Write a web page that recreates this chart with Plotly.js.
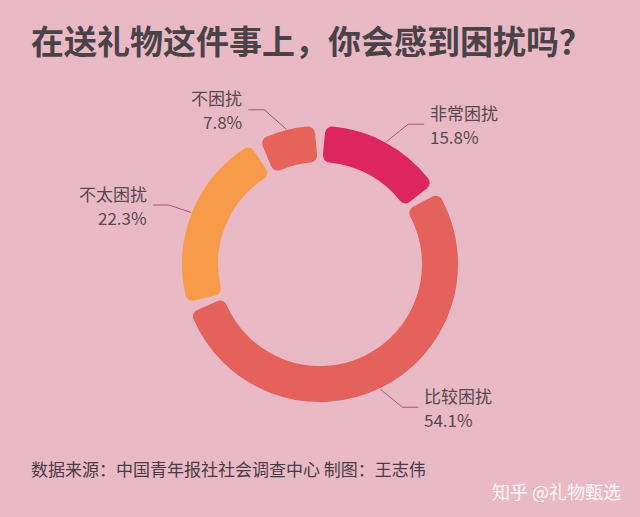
<!DOCTYPE html>
<html>
<head>
<meta charset="utf-8">
<script src="https://cdn.plot.ly/plotly-3.0.1.min.js"></script>
<style>
  html, body { margin: 0; padding: 0; background: #e9bac6; }
  #chart { width: 640px; height: 517px; }
</style>
</head>
<body>
<div id="chart"></div>
<script>
// ---- data ----
const labels = ['非常困扰', '比较困扰', '不太困扰', '不困扰'];
const values = [15.8, 54.1, 22.3, 7.8];
const sliceColors = ['#dd2660', '#e4615c', '#f79b4b', '#e7645b'];
const titleText = '在送礼物这件事上，你会感到困扰吗？';
const sourceText = '数据来源：中国青年报社社会调查中心 制图：王志伟';
const watermarkText = '知乎 @礼物甄选';

// ---- geometry / style ----
const W = 640, H = 517;
const CX = 320, CY = 264;        // ring centre (px)
const R_OUT = 138, R_IN = 102;   // visible ring radii (px)
const CORNER = 7;                // rounded corner radius (half stroke)
const GAP_FRAC = 0.029;          // share of the circle left empty at each boundary
const FONT = '"Noto Sans CJK SC", "Noto Sans", sans-serif';
const TEXT_COLOR = '#5a4850';
const LINE_COLOR = '#a8566a';
const BG = '#e9bac6';

const R = R_OUT - CORNER;
const hole = (R_IN + CORNER) / R;

const total = values.reduce((a, b) => a + b, 0);
const gap = GAP_FRAC * total;

// each slice keeps its true position; a transparent spacer is centred on each boundary
const pieValues = [], pieColors = [], lineColors = [], lineWidths = [], pieLabels = [];
values.forEach((v, i) => {
  pieValues.push(v - gap); pieColors.push(sliceColors[i]); lineColors.push(sliceColors[i]);
  lineWidths.push(CORNER * 2); pieLabels.push(labels[i]);
  pieValues.push(gap); pieColors.push('rgba(0,0,0,0)'); lineColors.push('rgba(0,0,0,0)');
  lineWidths.push(0); pieLabels.push(' gap' + i);
});

const toPX = x => x / W, toPY = y => 1 - y / H;

// leader lines + labels computed from slice angles
const shapes = [], annotations = [];
let cum = 0;
values.forEach((v, i) => {
  const mid = (cum + v / 2) / total * 2 * Math.PI;
  cum += v;
  const s = Math.sin(mid), c = Math.cos(mid);
  const x0 = CX + (R_OUT + 1) * s, y0 = CY - (R_OUT + 1) * c;
  const dir = s >= 0 ? 1 : -1;
  const x1 = x0 + dir * 22, y1 = y0 - 20 * c;
  const x2 = x1 + dir * 16;
  shapes.push({type: 'line', xref: 'paper', yref: 'paper', x0: toPX(x0), y0: toPY(y0), x1: toPX(x1), y1: toPY(y1), line: {color: LINE_COLOR, width: 1}});
  shapes.push({type: 'line', xref: 'paper', yref: 'paper', x0: toPX(x1), y0: toPY(y1), x1: toPX(x2), y1: toPY(y1), line: {color: LINE_COLOR, width: 1}});
  const anchor = dir > 0 ? 'left' : 'right';
  const tx = toPX(x2 + dir * 4);
  annotations.push({
    xref: 'paper', yref: 'paper', x: tx, y: toPY(y1 - 12), xanchor: anchor, yanchor: 'middle',
    showarrow: false, text: labels[i], font: {family: FONT, size: 17, color: TEXT_COLOR}
  });
  annotations.push({
    xref: 'paper', yref: 'paper', x: tx, y: toPY(y1 + 12), xanchor: anchor, yanchor: 'middle',
    showarrow: false, text: v.toFixed(1) + '%', font: {family: FONT, size: 17, color: TEXT_COLOR}
  });
});

annotations.push({
  xref: 'paper', yref: 'paper', x: toPX(29), y: toPY(468), xanchor: 'left', yanchor: 'middle',
  showarrow: false, text: sourceText, font: {family: FONT, size: 17, color: '#4a3c42'}
});
annotations.push({
  xref: 'paper', yref: 'paper', x: toPX(623), y: toPY(491), xanchor: 'right', yanchor: 'middle',
  showarrow: false, text: watermarkText, font: {family: FONT, size: 18, color: 'rgba(255,255,255,0.9)'}
});

const trace = {
  type: 'pie',
  values: pieValues,
  labels: pieLabels,
  sort: false,
  direction: 'clockwise',
  rotation: (gap / 2) / total * 360,
  hole: hole,
  textinfo: 'none',
  hoverinfo: 'none',
  showlegend: false,
  marker: {colors: pieColors, line: {color: lineColors, width: lineWidths}},
  domain: {x: [(CX - R) / W, (CX + R) / W], y: [1 - (CY + R) / H, 1 - (CY - R) / H]}
};

const layout = {
  width: W, height: H,
  margin: {l: 0, r: 0, t: 0, b: 0},
  paper_bgcolor: BG,
  plot_bgcolor: BG,
  showlegend: false,
  title: {
    text: titleText, xref: 'paper', yref: 'paper', x: toPX(31), xanchor: 'left',
    y: toPY(42), yanchor: 'middle',
    font: {family: FONT, size: 33, color: '#4a4246', weight: 700}
  },
  shapes: shapes,
  annotations: annotations
};

Plotly.newPlot('chart', [trace], layout, {staticPlot: true, displayModeBar: false}).then(gd => {
  gd.querySelectorAll('.pielayer path.surface').forEach(p => {
    p.style.strokeLinejoin = 'round';
    p.setAttribute('stroke-linejoin', 'round');
  });
});
</script>
</body>
</html>
